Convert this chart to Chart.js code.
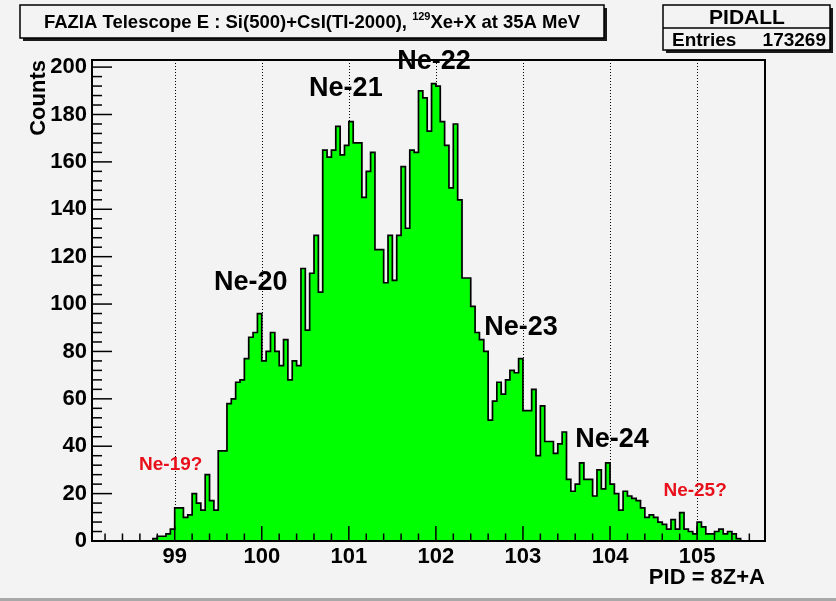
<!DOCTYPE html>
<html lang="en">
<head>
<meta charset="UTF-8" />
<title>PIDALL</title>
<script src="https://cdn.jsdelivr.net/npm/chart.js"></script>
<style>
  html, body { margin: 0; padding: 0; background: #f3f3f3; }
  #wrap { width: 836px; height: 601px; }
</style>
</head>
<body>
<div id="wrap"><canvas id="pid-chart" width="836" height="601"></canvas></div>
<script>
// PIDALL histogram, bins of 0.05 PID units starting at 98.75
const binLow = 98.75;
const binWidth = 0.05;
const counts = [
  1, 2, 2, 3, 5,
  14, 14, 10, 11, 20, 16, 13, 28, 17, 13,
  38, 38, 58, 60, 67, 68, 77, 86, 88, 96,
  76, 80, 88, 80, 74, 85, 68, 76, 74, 115,
  89, 113, 129, 105, 165, 162, 165, 175, 163, 167,
  177, 168, 168, 145, 156, 164, 123, 123, 109, 129,
  110, 129, 158, 132, 165, 164, 190, 187, 173, 193,
  192, 177, 167, 149, 176, 144, 111, 111, 99, 88,
  85, 80, 51, 59, 67, 62, 68, 72, 71, 77,
  55, 55, 64, 36, 57, 42, 42, 37, 41, 46,
  26, 21, 24, 33, 26, 26, 19, 30, 22, 33,
  24, 20, 13, 21, 19, 18, 17, 14, 10, 11,
  10, 8, 7, 5, 9, 5, 12, 5, 4, 3,
  8, 6, 3, 3, 4, 5, 3, 4, 3, 1
];
const xTicks = [99, 100, 101, 102, 103, 104, 105];
const yTicks = [0, 20, 40, 60, 80, 100, 120, 140, 160, 180, 200];
const peakNames = ['Ne-19?', 'Ne-20', 'Ne-21', 'Ne-22', 'Ne-23', 'Ne-24', 'Ne-25?'];
const entries = 173269;

const FONT = '"Liberation Sans", Arial, Helvetica, sans-serif';
const BG = '#f3f3f3';

// step outline: drop to zero at both ends of the filled range
const points = [{ x: binLow, y: 0 }];
counts.forEach((c, i) => points.push({ x: binLow + i * binWidth, y: c }));
points.push({ x: binLow + counts.length * binWidth, y: 0 });

// where the peak names sit, in (PID, counts)
const peakLabelSpots = [
  { x: 98.954, y: 32, size: 19, color: '#e8101a' },
  { x: 99.874, y: 109, size: 27, color: '#000' },
  { x: 100.966, y: 191, size: 27, color: '#000' },
  { x: 101.977, y: 202.5, size: 27, color: '#000' },
  { x: 102.977, y: 90, size: 27, color: '#000' },
  { x: 104.023, y: 42.7, size: 27, color: '#000' },
  { x: 104.977, y: 21, size: 19, color: '#e8101a' }
];

function pave(ctx, x, y, w, h) {
  ctx.fillStyle = '#1a1a1a';
  ctx.fillRect(x + 3, y + 3, w, h);
  ctx.fillStyle = BG;
  ctx.fillRect(x, y, w, h);
  ctx.strokeStyle = '#000';
  ctx.lineWidth = 1.5;
  ctx.strokeRect(x, y, w, h);
}

const rootStyle = {
  id: 'rootStyle',
  beforeDraw(chart) {
    const ctx = chart.ctx;
    ctx.save();
    ctx.fillStyle = BG;
    ctx.fillRect(0, 0, chart.width, chart.height);
    ctx.fillStyle = '#a8a8a8';
    ctx.fillRect(0, chart.height - 3, chart.width, 3);

    // title pave
    pave(ctx, 20, 5, 584, 33);
    const a = 'FAZIA Telescope E : Si(500)+CsI(TI-2000), ';
    const sup = '129';
    const b = 'Xe+X at 35A MeV';
    ctx.fillStyle = '#000';
    ctx.textBaseline = 'alphabetic';
    ctx.font = 'bold 18.5px ' + FONT;
    const wa = ctx.measureText(a).width, wb = ctx.measureText(b).width;
    ctx.font = 'bold 11px ' + FONT;
    const ws = ctx.measureText(sup).width;
    let x0 = 312 - (wa + ws + wb) / 2;
    ctx.font = 'bold 18.5px ' + FONT;
    ctx.textAlign = 'left';
    ctx.fillText(a, x0, 28);
    ctx.font = 'bold 11px ' + FONT;
    ctx.fillText(sup, x0 + wa, 20);
    ctx.font = 'bold 18.5px ' + FONT;
    ctx.fillText(b, x0 + wa + ws, 28);

    // stats pave
    pave(ctx, 663, 5, 167, 45);
    ctx.beginPath();
    ctx.moveTo(663, 28);
    ctx.lineTo(830, 28);
    ctx.stroke();
    ctx.fillStyle = '#000';
    ctx.font = 'bold 21px ' + FONT;
    ctx.textAlign = 'center';
    ctx.fillText('PIDALL', 747, 24);
    ctx.font = 'bold 19px ' + FONT;
    ctx.textAlign = 'left';
    ctx.fillText('Entries', 672, 46);
    ctx.textAlign = 'right';
    ctx.fillText(String(entries), 826, 46);
    ctx.restore();
  },
  beforeDatasetsDraw(chart) {
    const { ctx, chartArea: ca, scales: { x } } = chart;
    ctx.save();
    ctx.strokeStyle = '#000';
    ctx.lineWidth = 1;
    ctx.setLineDash([1, 2]);
    xTicks.forEach(v => {
      const px = Math.round(x.getPixelForValue(v)) + 0.5;
      ctx.beginPath();
      ctx.moveTo(px, ca.top);
      ctx.lineTo(px, ca.bottom);
      ctx.stroke();
    });
    ctx.restore();
  },
  afterDatasetsDraw(chart) {
    const { ctx, chartArea: ca, scales: { x, y } } = chart;
    ctx.save();
    ctx.strokeStyle = '#000';
    ctx.lineWidth = 1.5;
    // x ticks: major every 1, minor every 0.2
    for (let k = Math.ceil(x.min * 5); k <= Math.floor(x.max * 5); k++) {
      const v = k / 5;
      const px = x.getPixelForValue(v);
      const len = k % 5 === 0 ? 15 : 7.5;
      ctx.beginPath();
      ctx.moveTo(px, ca.bottom);
      ctx.lineTo(px, ca.bottom - len);
      ctx.stroke();
    }
    // y ticks: major every 20, minor every 4
    for (let v = 0; v <= y.max; v += 4) {
      const py = y.getPixelForValue(v);
      const len = v % 20 === 0 ? 20 : 10;
      ctx.beginPath();
      ctx.moveTo(ca.left, py);
      ctx.lineTo(ca.left + len, py);
      ctx.stroke();
    }
    // frame
    ctx.lineWidth = 2;
    ctx.strokeRect(ca.left, ca.top, ca.right - ca.left, ca.bottom - ca.top);

    // peak names
    ctx.textAlign = 'center';
    ctx.textBaseline = 'middle';
    peakNames.forEach((name, i) => {
      const s = peakLabelSpots[i];
      ctx.font = 'bold ' + s.size + 'px ' + FONT;
      ctx.fillStyle = s.color;
      ctx.fillText(name, x.getPixelForValue(s.x), y.getPixelForValue(s.y));
    });
    ctx.restore();
  }
};

const ctx = document.getElementById('pid-chart').getContext('2d');
new Chart(ctx, {
  type: 'line',
  data: {
    datasets: [{
      data: points,
      stepped: 'before',
      fill: 'origin',
      backgroundColor: '#00ff00',
      borderColor: '#000',
      borderWidth: 1.7,
      pointRadius: 0,
      tension: 0
    }]
  },
  options: {
    responsive: false,
    animation: false,
    layout: { padding: { left: 0, right: 71, top: 60, bottom: 0 } },
    plugins: { legend: { display: false }, tooltip: { enabled: false } },
    scales: {
      x: {
        type: 'linear',
        min: 98.05,
        max: 105.78,
        afterFit: s => { s.height = 60; },
        afterBuildTicks: s => { s.ticks = xTicks.map(v => ({ value: v })); },
        grid: { display: false, drawTicks: false },
        border: { display: false },
        ticks: { color: '#000', font: { family: FONT, size: 22, weight: 'bold' }, padding: 3, maxRotation: 0, autoSkip: false },
        title: { display: true, text: 'PID = 8Z+A', align: 'end', color: '#000', font: { family: FONT, size: 22, weight: 'bold' }, padding: { top: 0, bottom: 10 } }
      },
      y: {
        min: 0,
        max: 203,
        afterFit: s => { s.width = 92; },
        afterBuildTicks: s => { s.ticks = yTicks.map(v => ({ value: v })); },
        grid: { display: false, drawTicks: false },
        border: { display: false },
        ticks: { color: '#000', font: { family: FONT, size: 22, weight: 'bold' }, padding: 5 },
        title: { display: true, text: 'Counts', align: 'end', color: '#000', font: { family: FONT, size: 22, weight: 'bold' }, padding: { top: 26, bottom: 0 } }
      }
    }
  },
  plugins: [rootStyle]
});
</script>
</body>
</html>
